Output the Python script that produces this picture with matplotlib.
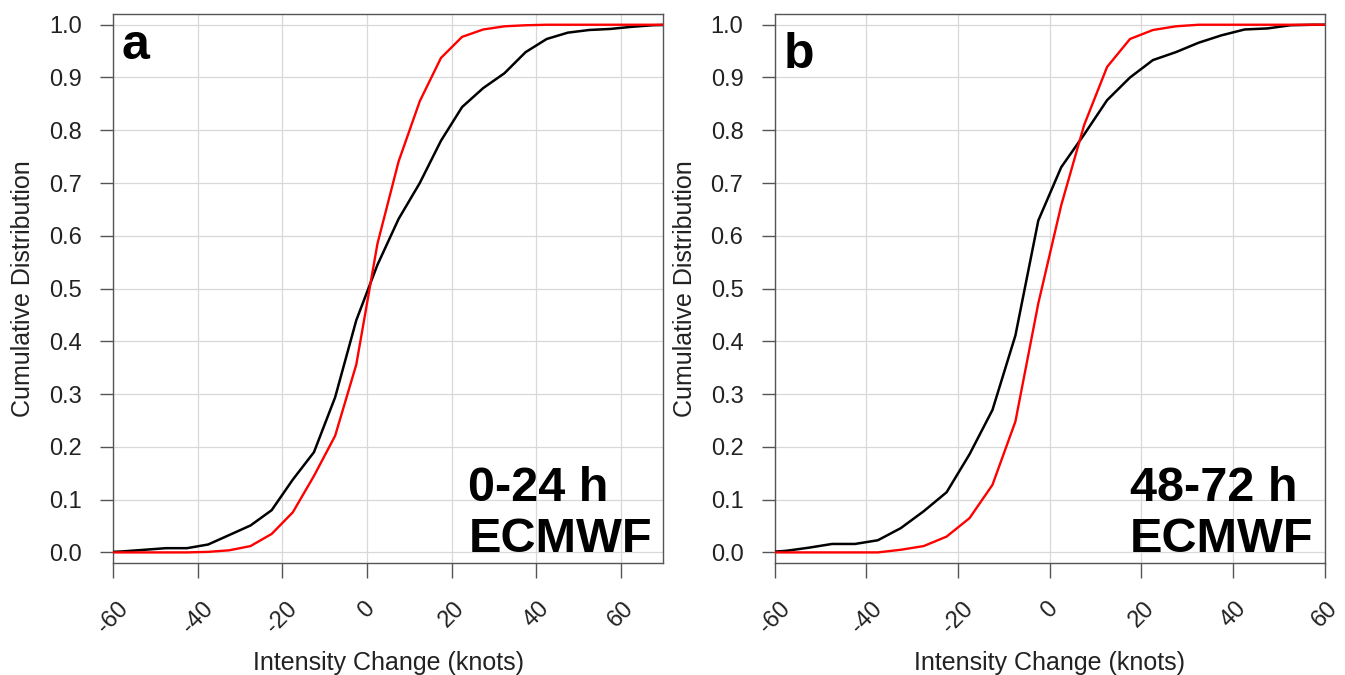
import numpy as np
import matplotlib
matplotlib.use("Agg")
import matplotlib.pyplot as plt
import matplotlib.transforms as mtransforms

plt.rcParams['font.family'] = ['Liberation Sans', 'DejaVu Sans']
plt.rcParams['axes.unicode_minus'] = False

# bin centres (knots)
x = [-62.5, -57.5, -52.5, -47.5, -42.5, -37.5, -32.5, -27.5, -22.5, -17.5,
     -12.5, -7.5, -2.5, 2.5, 7.5, 12.5, 17.5, 22.5, 27.5, 32.5, 37.5,
     42.5, 47.5, 52.5, 57.5, 62.5, 67.5, 72.5]

# panel a, 0-24 h
a_black = [0.0, 0.002, 0.005, 0.008, 0.008, 0.015, 0.033, 0.051, 0.080, 0.138,
           0.19, 0.294, 0.44, 0.545, 0.632, 0.70, 0.78, 0.844, 0.88, 0.908, 0.948,
           0.973, 0.985, 0.99, 0.992, 0.996, 0.999, 1.0]
a_red = [0.0, 0.0, 0.0, 0.0, 0.0, 0.001, 0.004, 0.012, 0.035, 0.076,
         0.145, 0.221, 0.356, 0.585, 0.741, 0.855, 0.937, 0.977, 0.991, 0.997, 0.999,
         1.0, 1.0, 1.0, 1.0, 1.0, 1.0, 1.0]

# panel b, 48-72 h
b_black = [0.0, 0.003, 0.009, 0.016, 0.016, 0.023, 0.046, 0.078, 0.114, 0.186,
           0.27, 0.411, 0.629, 0.730, 0.792, 0.857, 0.90, 0.933, 0.948, 0.966, 0.98,
           0.991, 0.993, 0.999, 1.0, 1.0, 1.0, 1.0]
b_red = [0.0, 0.0, 0.0, 0.0, 0.0, 0.0, 0.005, 0.012, 0.03, 0.065,
         0.128, 0.248, 0.472, 0.658, 0.81, 0.92, 0.973, 0.99, 0.997, 1.0, 1.0,
         1.0, 1.0, 1.0, 1.0, 1.0, 1.0, 1.0]

panels = [
    ("a", "0-24 h\nECMWF", a_black, a_red, 70, 0.918),
    ("b", "48-72 h\nECMWF", b_black, b_red, 60, 0.902),
]

fig = plt.figure(figsize=(13.45, 6.75), dpi=100)
lefts = [0.084, 0.576]
for left, (letter, label, black, red, xmax, ly) in zip(lefts, panels):
    ax = fig.add_axes([left, 0.166, 0.409, 0.813])
    ax.plot(x, black, color='black', lw=1.8, zorder=3)
    ax.plot(x, red, color='red', lw=1.7, zorder=3)
    ax.set_xlim(-60, xmax)
    ax.set_ylim(-0.02, 1.02)
    xt = np.arange(-60, 61, 20)
    ax.set_xticks(xt)
    ax.set_xticklabels([str(v) for v in xt])
    ax.set_yticks(np.arange(0, 1.01, 0.1))
    ax.set_yticklabels([f"{v:.1f}" for v in np.arange(0, 1.01, 0.1)])
    ax.grid(True, color='#d8d8d8', lw=0.9)
    ax.set_axisbelow(True)
    for s in ax.spines.values():
        s.set_color('#555555')
        s.set_linewidth(1.0)
    ax.tick_params(axis='x', direction='out', length=11, width=1, colors='#555555',
                   labelcolor='#222222', labelsize=17, pad=14)
    ax.tick_params(axis='y', direction='out', length=9.5, width=1, colors='#555555',
                   labelcolor='#222222', labelsize=17, pad=13)
    for t in ax.get_xticklabels():
        t.set_rotation(45)
        t.set_ha('center')
        t.set_va('top')
    ax.set_xlabel("Intensity Change (knots)", fontsize=18, color='#222222', labelpad=10)
    ax.set_ylabel("Cumulative Distribution", fontsize=18, color='#222222', labelpad=10)
    ax.text(0.016, ly, letter, transform=ax.transAxes, fontsize=36,
            fontweight='bold', va='baseline', ha='left')
    trans = mtransforms.blended_transform_factory(ax.transAxes, ax.transData)
    ax.text(0.98, 0.0, label, transform=trans, fontsize=35,
            fontweight='bold', va='baseline', ha='right', linespacing=1.17,
            multialignment='left')

fig.savefig("out.png", dpi=100)
